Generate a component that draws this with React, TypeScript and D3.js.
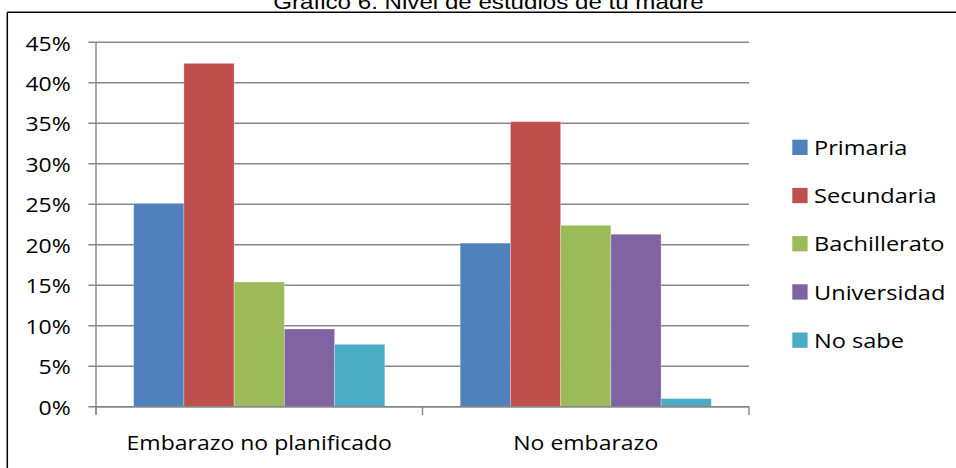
import React from "react";
import * as d3 from "d3";

const title = "Gráfico 6. Nivel de estudios de tu madre";
const categories = ["Embarazo no planificado", "No embarazo"];
const seriesNames = ["Primaria", "Secundaria", "Bachillerato", "Universidad", "No sabe"];
const seriesColors = ["#4F81BD", "#C0504D", "#9BBB59", "#8064A2", "#4BACC6"];
// percent per series, one entry per category
const primaria = [25.1, 20.2];
const secundaria = [42.4, 35.2];
const bachillerato = [15.4, 22.4];
const universidad = [9.6, 21.3];
const noSabe = [7.7, 1.0];
const yTicks = [0, 5, 10, 15, 20, 25, 30, 35, 40, 45];

const seriesValues = [primaria, secundaria, bachillerato, universidad, noSabe];

const W = 956;
const H = 468;
const plot = { left: 96, right: 749, top: 42.3, bottom: 406.7 };
const font = "'Open Sans', 'Noto Sans', sans-serif";
const stretch = 1.15;
const gridColor = "#878787";

export default function App() {
  const y = d3.scaleLinear().domain([0, 45]).range([plot.bottom, plot.top]);
  const x0 = d3.scaleBand<string>().domain(categories).range([plot.left, plot.right]).padding(0);
  const x1 = d3
    .scaleBand<string>()
    .domain(seriesNames)
    .range([0, x0.bandwidth()])
    .paddingInner(0)
    .paddingOuter(0.75);

  const boundaries = [plot.left, ...categories.map((c) => (x0(c) as number) + x0.bandwidth())];

  const legendTop = 155;
  const legendStep = 48.2;

  return (
    <svg
      width={W}
      height={H}
      viewBox={`0 0 ${W} ${H}`}
      style={{ position: "absolute", left: 0, top: 0, background: "#fff" }}
    >
      <rect x={0} y={0} width={W} height={H} fill="#fff" />
      {/* title */}
      <text
        transform={`translate(488.5, 8.5) scale(${stretch},1)`}
        textAnchor="middle"
        fontFamily="'Liberation Sans', Arial, sans-serif"
        fontSize={21}
        fill="#000"
      >
        {title}
      </text>
      {/* chart frame */}
      <line x1={7.3} x2={W} y1={12.3} y2={12.3} stroke="#000" strokeWidth={1.5} />
      <line x1={7.3} x2={7.3} y1={12.3} y2={H} stroke="#000" strokeWidth={1.5} />

      {/* gridlines + y ticks */}
      {yTicks.map((t) => (
        <g key={t}>
          <line x1={88.3} x2={plot.right} y1={y(t)} y2={y(t)} stroke={gridColor} strokeWidth={1.4} />
          <text
            transform={`translate(70.7, ${y(t) + 8.2}) scale(${stretch},1)`}
            textAnchor="end"
            fontFamily={font}
            fontSize={20}
            fill="#000"
          >
            {`${t}%`}
          </text>
        </g>
      ))}

      {/* bars */}
      {categories.map((c, ci) => (
        <g key={c} transform={`translate(${x0(c)},0)`}>
          {seriesNames.map((s, si) => {
            const v = seriesValues[si][ci];
            return (
              <rect
                key={s}
                x={x1(s)}
                y={y(v)}
                width={x1.bandwidth()}
                height={y(0) - y(v)}
                fill={seriesColors[si]}
                stroke="#ffffff"
                strokeOpacity={0.35}
                strokeWidth={0.8}
              />
            );
          })}
        </g>
      ))}

      {/* axes */}
      <line x1={plot.left} x2={plot.left} y1={plot.top} y2={415} stroke={gridColor} strokeWidth={1.4} />
      <line x1={plot.left} x2={plot.right} y1={plot.bottom} y2={plot.bottom} stroke={gridColor} strokeWidth={1.4} />
      {boundaries.map((bx, i) => (
        <line key={i} x1={bx} x2={bx} y1={plot.bottom} y2={415} stroke={gridColor} strokeWidth={1.4} />
      ))}
      {categories.map((c) => (
        <text
          key={c}
          transform={`translate(${(x0(c) as number) + x0.bandwidth() / 2}, 450) scale(${stretch},1)`}
          textAnchor="middle"
          fontFamily={font}
          fontSize={20}
          fill="#000"
        >
          {c}
        </text>
      ))}

      {/* legend */}
      {seriesNames.map((s, i) => {
        const base = legendTop + i * legendStep;
        return (
          <g key={s}>
            <rect x={792.3} y={base - 15.3} width={15.3} height={15.3} fill={seriesColors[i]} />
            <text
              transform={`translate(814, ${base}) scale(${stretch},1)`}
              fontFamily={font}
              fontSize={20.5}
              fill="#000"
            >
              {s}
            </text>
          </g>
        );
      })}
    </svg>
  );
}
